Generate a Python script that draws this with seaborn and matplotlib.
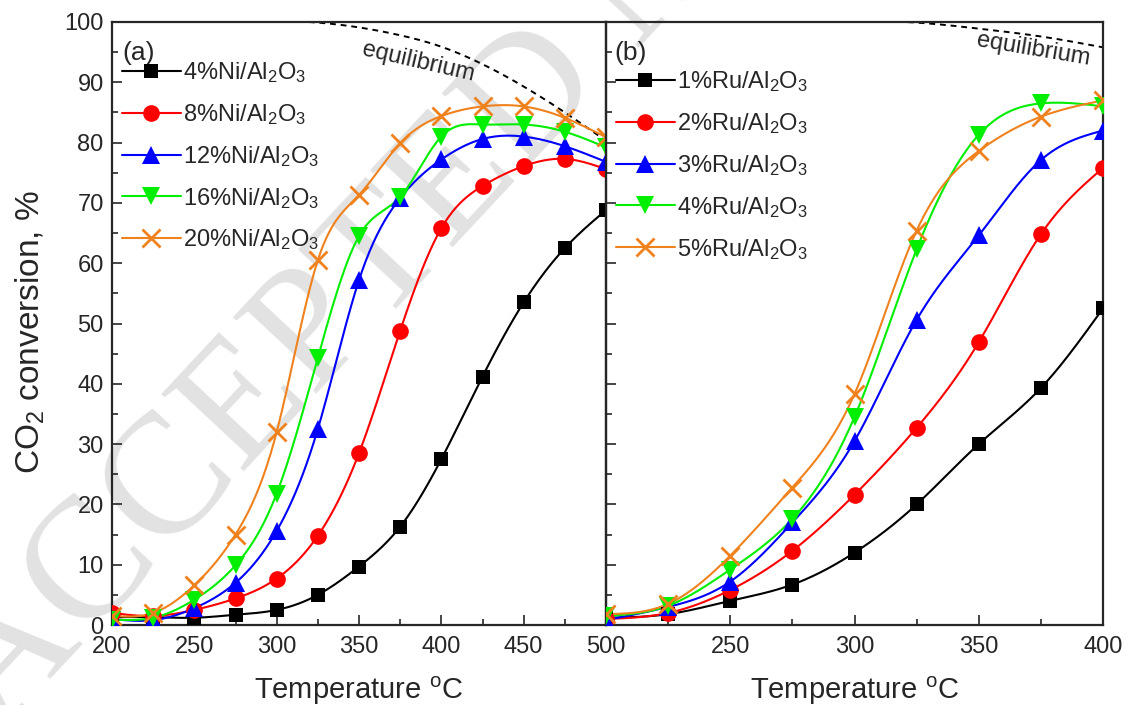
import numpy as np
import seaborn as sns
import matplotlib
matplotlib.use("Agg")
import matplotlib.pyplot as plt
from matplotlib.lines import Line2D
from matplotlib.ticker import MultipleLocator

# ---- data -------------------------------------------------------------
temp_ni = [200, 225, 250, 275, 300, 325, 350, 375, 400, 425, 450, 475, 500]
ni_4 = [1.3, 1.3, 1.2, 1.7, 2.5, 5.0, 9.7, 16.3, 27.5, 41.2, 53.5, 62.5, 68.8]
ni_8 = [2.0, 1.5, 2.5, 4.4, 7.7, 14.8, 28.5, 48.8, 65.8, 72.8, 76.1, 77.3, 75.6]
ni_12 = [1.0, 0.8, 2.8, 7.0, 15.6, 32.5, 57.2, 70.8, 77.2, 80.6, 81.0, 79.4, 76.8]
ni_16 = [0.9, 1.2, 4.2, 9.9, 21.8, 44.3, 64.5, 71.0, 81.0, 83.0, 83.0, 81.8, 79.2]
ni_20 = [1.5, 2.0, 6.6, 15.0, 32.0, 60.5, 71.3, 79.9, 84.4, 86.0, 86.0, 84.1, 80.9]
ni_labels = ["4%", "8%", "12%", "16%", "20%"]

temp_ru = [200, 225, 250, 275, 300, 325, 350, 375, 400]
ru_1 = [1.2, 1.8, 4.0, 6.7, 12.0, 20.0, 30.0, 39.3, 52.5]
ru_2 = [1.0, 2.0, 5.8, 12.3, 21.6, 32.7, 46.9, 64.8, 75.8]
ru_3 = [0.8, 3.0, 7.2, 17.0, 30.5, 50.6, 64.6, 77.1, 82.0]
ru_4 = [1.5, 3.2, 9.2, 17.6, 34.5, 62.3, 81.3, 86.5, 86.0]
ru_5 = [1.8, 3.5, 11.5, 22.8, 38.3, 65.4, 78.6, 84.3, 87.0]
ru_labels = ["1%", "2%", "3%", "4%", "5%"]

eq_temp_ni = [300, 325, 350, 375, 400, 425, 450, 475, 500]
eq_ni = [100.2, 99.9, 99.1, 97.8, 95.9, 93.0, 89.3, 85.0, 80.3]
eq_temp_ru = [300, 325, 350, 375, 400]
eq_ru = [100.2, 99.9, 98.9, 97.6, 95.8]

colors = ["#000000", "#ff0000", "#0000ff", "#00ee00", "#f0821e"]
markers = ["s", "o", "^", "v", "x"]
msizes = [10, 12, 13, 13, 13]


def natural_spline(x, y, xs):
    """Natural cubic spline through (x, y), evaluated at xs."""
    x = np.asarray(x, float)
    y = np.asarray(y, float)
    n = len(x)
    h = np.diff(x)
    A = np.zeros((n, n))
    r = np.zeros(n)
    A[0, 0] = A[-1, -1] = 1.0
    for i in range(1, n - 1):
        A[i, i - 1] = h[i - 1]
        A[i, i] = 2 * (h[i - 1] + h[i])
        A[i, i + 1] = h[i]
        r[i] = 3 * ((y[i + 1] - y[i]) / h[i] - (y[i] - y[i - 1]) / h[i - 1])
    c = np.linalg.solve(A, r)
    b = (y[1:] - y[:-1]) / h - h * (2 * c[:-1] + c[1:]) / 3
    d = (c[1:] - c[:-1]) / (3 * h)
    idx = np.clip(np.searchsorted(x, xs) - 1, 0, n - 2)
    dx = xs - x[idx]
    return y[idx] + b[idx] * dx + c[idx] * dx ** 2 + d[idx] * dx ** 3


sns.set_theme(style="ticks")
plt.rcParams["font.family"] = ["Liberation Sans", "DejaVu Sans"]
plt.rcParams["mathtext.fontset"] = "custom"
plt.rcParams["mathtext.rm"] = "Liberation Sans"
plt.rcParams["axes.linewidth"] = 1.6

fig = plt.figure(figsize=(11.25, 7.05), dpi=100)
fig.patch.set_facecolor("white")

# faint diagonal stamp behind the panels
fig.text(0.0, -0.04, "ACCEPTED MANUSCRIPT", rotation=47, rotation_mode="anchor",
         ha="left", va="baseline", fontsize=124, family="Liberation Serif",
         color="#e2e2e2", zorder=-5)

L, R, B, T = 112 / 1125, 1103 / 1125, 1 - 625 / 705, 1 - 22 / 705
mid = 606 / 1125
ax1 = fig.add_axes([L, B, mid - L, T - B])
ax2 = fig.add_axes([mid, B, R - mid, T - B])
for ax in (ax1, ax2):
    ax.patch.set_alpha(0)


def draw_panel(ax, temps, series, labels, catalyst, eq_t, eq_y, xmax):
    xs = np.linspace(temps[0], temps[-1], 400)
    handles = []
    for vals, lab, col, mk, ms in zip(series, labels, colors, markers, msizes):
        smooth = natural_spline(temps, vals, xs)
        sns.lineplot(x=xs, y=smooth, color=col, lw=1.5, ax=ax, legend=False, zorder=3)
        sns.lineplot(x=temps, y=vals, color=col, marker=mk, markersize=ms,
                     markeredgewidth=2 if mk == "x" else 0, markeredgecolor=col,
                     linestyle="", ax=ax, legend=False, zorder=4)
        handles.append(Line2D([], [], color=col, lw=1.5, marker=mk, markersize=ms,
                              markeredgewidth=2 if mk == "x" else 0,
                              markeredgecolor=col,
                              label=lab + catalyst + r"/Al$\mathregular{_2}$O$\mathregular{_3}$"))
    xe = np.linspace(eq_t[0], eq_t[-1], 300)
    sns.lineplot(x=xe, y=natural_spline(eq_t, eq_y, xe), color="black", lw=1.4,
                 dashes=False, linestyle=(0, (3, 2.5)), ax=ax, legend=False, zorder=2)
    ax.set_xlim(200, xmax)
    ax.set_ylim(0, 100)
    ax.xaxis.set_major_locator(MultipleLocator(50))
    ax.xaxis.set_minor_locator(MultipleLocator(25))
    ax.yaxis.set_major_locator(MultipleLocator(10))
    ax.yaxis.set_minor_locator(MultipleLocator(5))
    ax.tick_params(which="both", direction="in", top=False, right=False,
                   labelsize=17, width=1.2)
    ax.tick_params(axis="x", pad=8)
    ax.tick_params(axis="y", pad=6)
    ax.tick_params(which="major", length=7)
    ax.tick_params(which="minor", length=4)
    ax.set_xlabel(r"Temperature $\mathregular{^{o}}$C", fontsize=21, labelpad=12)
    return handles


h1 = draw_panel(ax1, temp_ni, [ni_4, ni_8, ni_12, ni_16, ni_20], ni_labels, "Ni",
                eq_temp_ni, eq_ni, 500)
h2 = draw_panel(ax2, temp_ru, [ru_1, ru_2, ru_3, ru_4, ru_5], ru_labels, "Ru",
                eq_temp_ru, eq_ru, 400)

ax1.set_ylabel(r"CO$\mathregular{_2}$ conversion, %", fontsize=24)
ax1.yaxis.set_label_coords(-0.132, 0.486)
ax2.set_ylabel("")
ax2.tick_params(axis="y", labelleft=False)
ax2.set_xticks([250, 300, 350, 400])

ax1.text(0.022, 0.968, "(a)", transform=ax1.transAxes, fontsize=19, va="top")
ax2.text(0.016, 0.968, "(b)", transform=ax2.transAxes, fontsize=19, va="top")
ax1.text(386, 93.4, "equilibrium", fontsize=17, rotation=-13, ha="center", va="center")
ax2.text(372, 95.4, "equilibrium", fontsize=17, rotation=-9.5, ha="center", va="center")

leg_kw = dict(loc="upper left", frameon=False, fontsize=17, handlelength=2.5,
              handletextpad=0.1, labelspacing=0.72, borderpad=0, borderaxespad=0)
ax1.legend(handles=h1, bbox_to_anchor=(0.02, 0.937), **leg_kw)
ax2.legend(handles=h2, bbox_to_anchor=(0.02, 0.922), **leg_kw)

fig.savefig("out.png", dpi=100, facecolor="white")
